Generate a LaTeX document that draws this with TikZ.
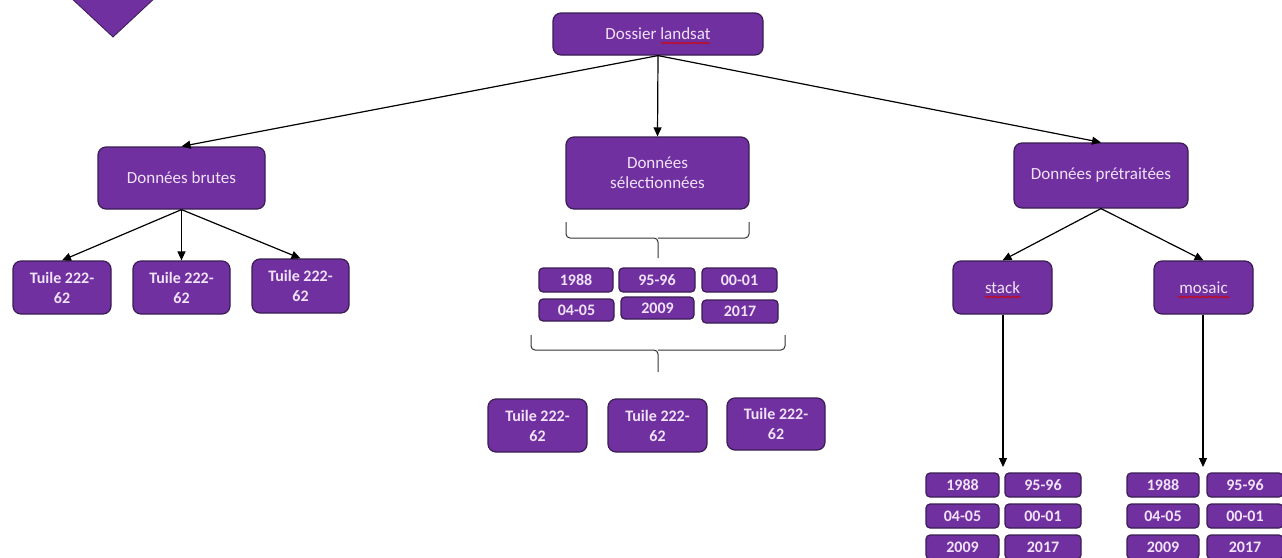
\documentclass[tikz,border=0pt]{standalone}
\usepackage{fontspec}
\setmainfont{Carlito}
\usetikzlibrary{arrows.meta,decorations.pathmorphing}
\definecolor{purp}{HTML}{7030A0}
\definecolor{edgec}{HTML}{3A1D52}
\definecolor{txt}{HTML}{F0E2F7}
\begin{document}
\begin{tikzpicture}[x=1pt,y=-1pt,
  box/.style={draw=edgec, line width=1.2pt, fill=purp, rounded corners=8pt, text=txt,
    font=\fontsize{17}{20}\selectfont, align=center, inner sep=0pt},
  small/.style={box, font=\fontsize{16}{20}\selectfont\bfseries},
  yr/.style={box, rounded corners=4pt, font=\fontsize{16}{18}\selectfont\bfseries},
  sz/.style 2 args={minimum width=#1pt, minimum height=#2pt},
  conn/.style={line width=1.2pt, -{Triangle[length=9pt,width=8pt]}},
  bracec/.style={draw=black!80, line width=1pt, rounded corners=4pt},
  spell/.style={draw=red!85!black, line width=0.7pt, decorate,
    decoration={snake, amplitude=0.8pt, segment length=3pt}}]
\useasboundingbox (0,0) rectangle (1282,557);
\fill[white] (0,0) rectangle (1282,557);

% corner shape
\draw[fill=purp, draw=edgec, line width=0.8pt] (69,-4) -- (157,-4) -- (113,37) -- cycle;

% main nodes
\node[box, sz={210}{42}] (dos) at (658,34) {Dossier landsat};
\node[box, sz={167}{62}] (brutes) at (181.5,178) {Données brutes};
\node[box, sz={183}{72}] (sel) at (657.5,173) {Données\\sélectionnées};
\node[box, sz={174}{65}] (pre) at (1101,175.5) {Données prétraitées};

% spell-check squiggles
\draw[spell] (661,43) -- (710,43);

% left tiles
\node[small, sz={98}{53}] (l1) at (62,287.5) {Tuile 222-\\62};
\node[small, sz={97}{53}] (l2) at (181.5,287.5) {Tuile 222-\\62};
\node[small, sz={97}{54}] (l3) at (300.5,286) {Tuile 222-\\62};

% middle years
\node[yr, sz={74}{24}] (y1) at (576,280) {1988};
\node[yr, sz={76}{24}] (y2) at (657,280) {95-96};
\node[yr, sz={75}{24}] (y3) at (739.5,280) {00-01};
\node[yr, sz={75}{22}] (y4) at (576.5,310) {04-05};
\node[yr, sz={73}{22}] (y5) at (657.5,308) {2009};
\node[yr, sz={76}{23}] (y6) at (740,311.5) {2017};

% middle tiles
\node[small, sz={99}{53}] (m1) at (537.5,425.5) {Tuile 222-\\62};
\node[small, sz={99}{53}] (m2) at (657.5,425.5) {Tuile 222-\\62};
\node[small, sz={98}{52}] (m3) at (776,424) {Tuile 222-\\62};

% braces
\draw[bracec] (566,222) -- (566,238) -- (658,238) -- (658,258);
\draw[bracec] (749,222) -- (749,238) -- (658,238);
\draw[bracec] (531,335) -- (531,350) -- (658,350) -- (658,372);
\draw[bracec] (785,335) -- (785,350) -- (658,350);

% stack / mosaic
\node[box, sz={99}{53}] (stack) at (1002.5,287.5) {stack};
\node[box, sz={99}{53}] (mosaic) at (1203.5,287.5) {mosaic};
\draw[spell] (985,297) -- (1021,297);
\draw[spell] (1178,297) -- (1230,297);

% bottom left grid
\node[yr, sz={73}{24}] (s1) at (962.5,485) {1988};
\node[yr, sz={76}{24}] (s2) at (1043,485) {95-96};
\node[yr, sz={73}{24}] (s3) at (962.5,516) {04-05};
\node[yr, sz={76}{24}] (s4) at (1043,516) {00-01};
\node[yr, sz={73}{24}] (s5) at (962.5,547) {2009};
\node[yr, sz={76}{24}] (s6) at (1043,547) {2017};

% bottom right grid
\node[yr, sz={72}{24}] (t1) at (1163,485) {1988};
\node[yr, sz={76}{24}] (t2) at (1245,485) {95-96};
\node[yr, sz={72}{24}] (t3) at (1163,516) {04-05};
\node[yr, sz={76}{24}] (t4) at (1245,516) {00-01};
\node[yr, sz={72}{24}] (t5) at (1163,547) {2009};
\node[yr, sz={76}{24}] (t6) at (1245,547) {2017};

\coordinate (sa) at (1003,467);
\coordinate (ma) at (1203,467);

% connectors
\draw[conn] (dos.south) -- (brutes.north);
\draw[conn] (dos.south) -- (sel.north);
\draw[conn] (dos.south) -- (pre.north);
\draw[conn] (brutes.south) -- (l1.north);
\draw[conn] (brutes.south) -- (l2.north);
\draw[conn] (brutes.south) -- (l3.north);
\draw[conn] (pre.south) -- (stack.north);
\draw[conn] (pre.south) -- (mosaic.north);
\draw[conn] (stack.south -| sa) -- (sa);
\draw[conn] (mosaic.south -| ma) -- (ma);
\end{tikzpicture}
\end{document}
